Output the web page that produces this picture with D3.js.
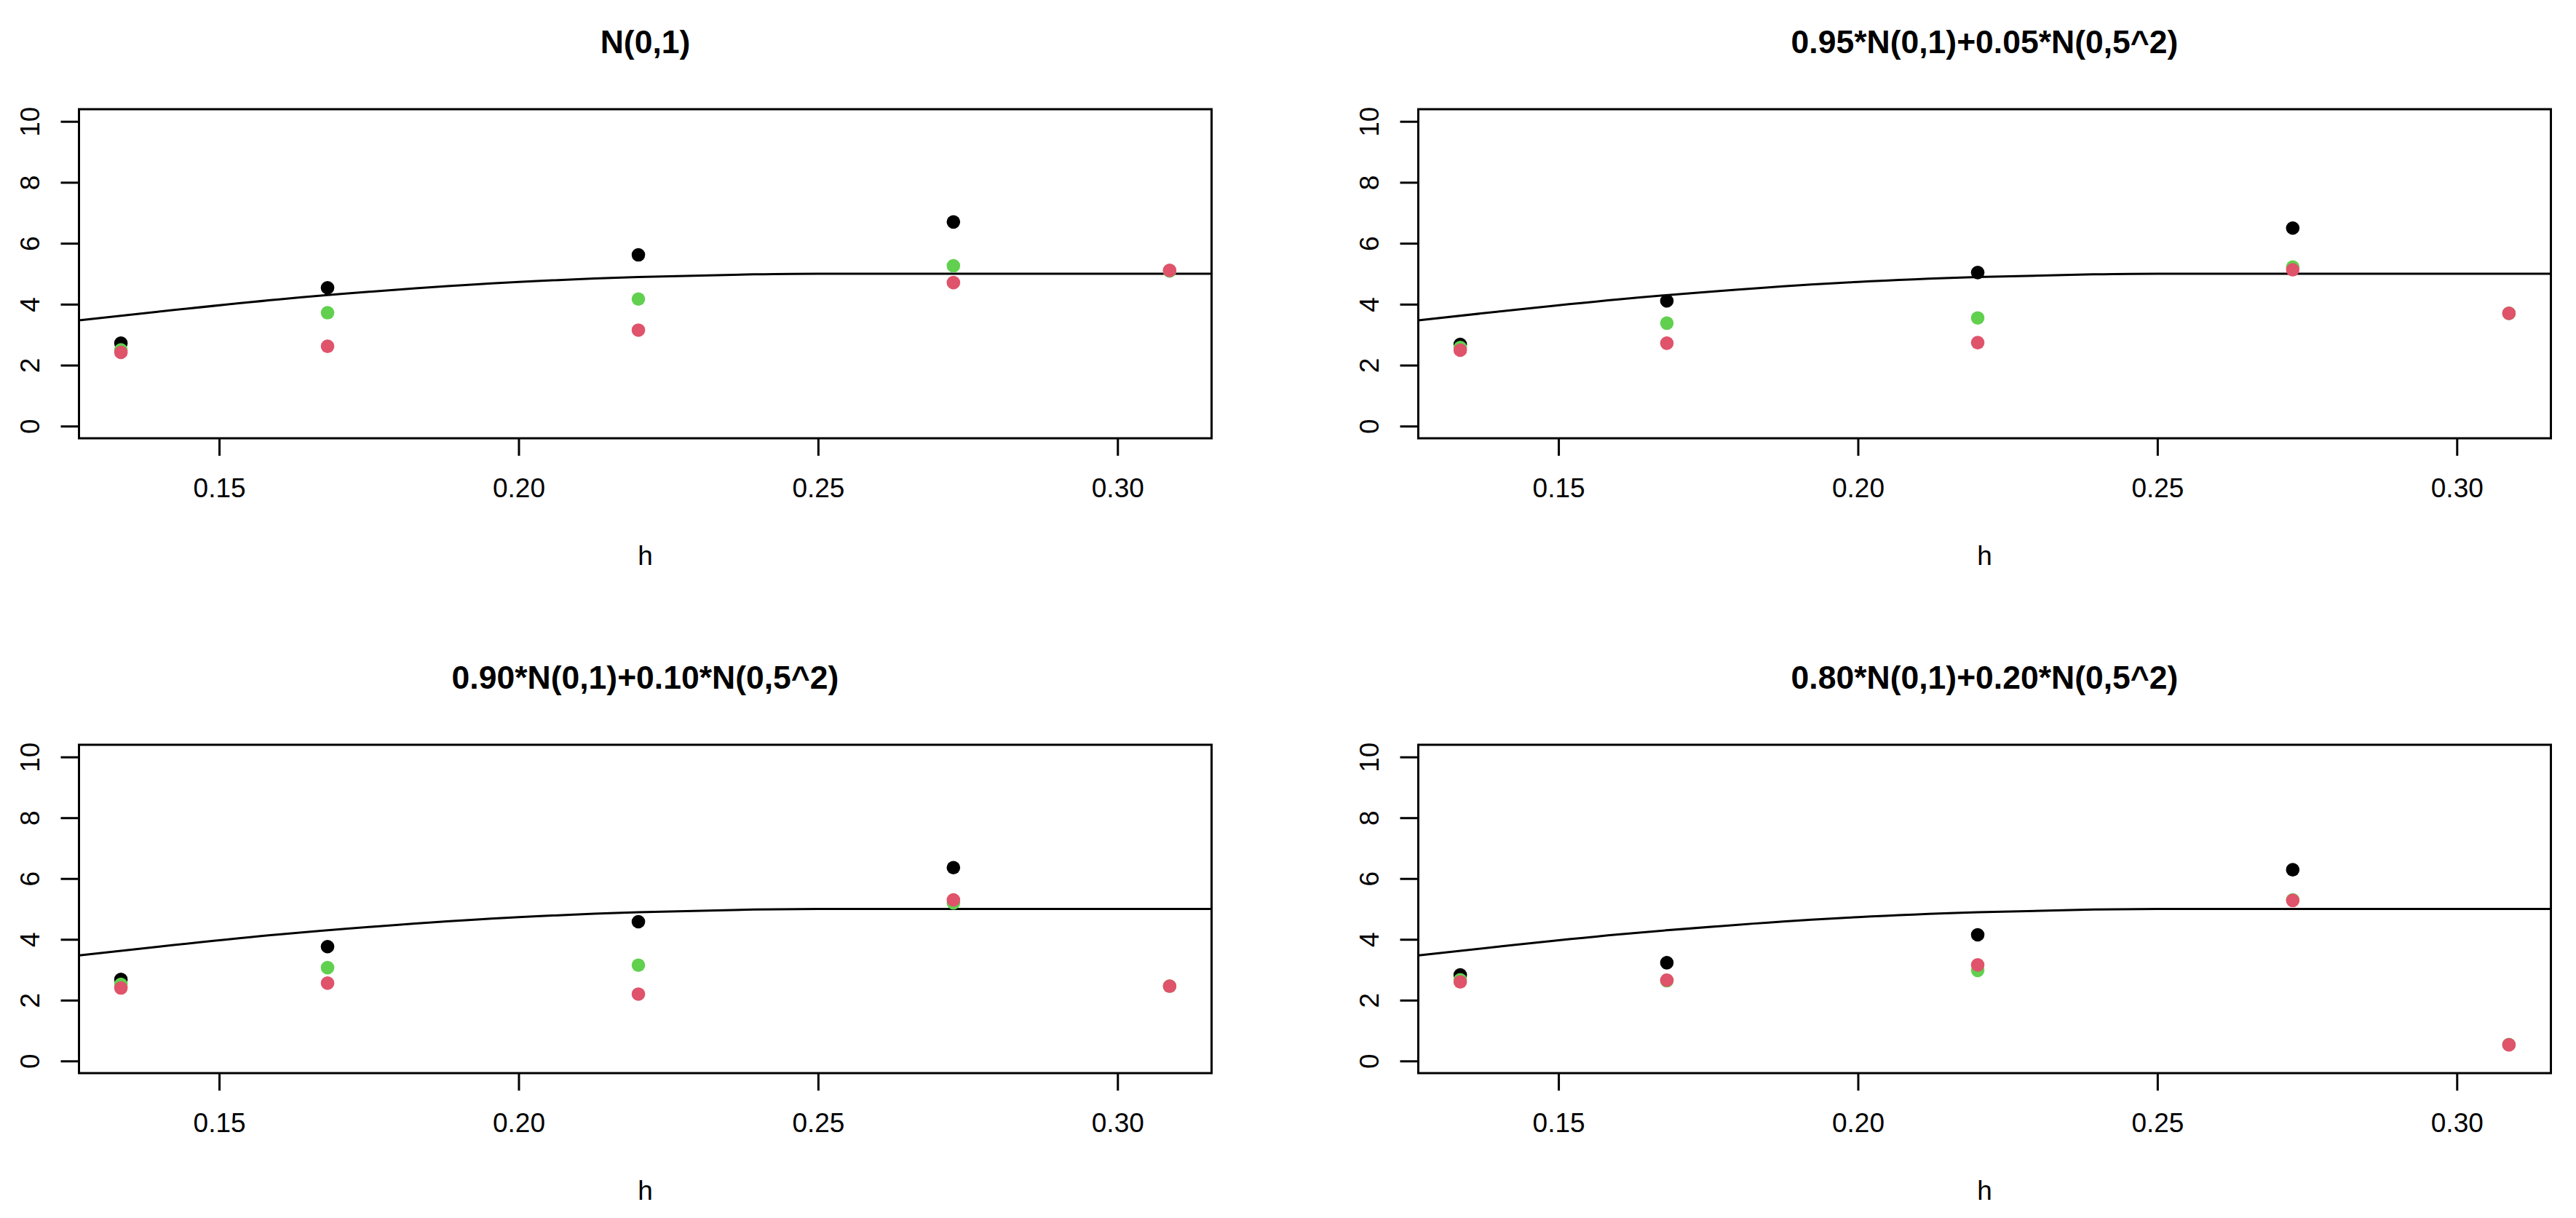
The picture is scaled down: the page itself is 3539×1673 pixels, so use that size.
<!DOCTYPE html>
<html>
<head>
<meta charset="utf-8">
<script src="https://cdn.jsdelivr.net/npm/d3@7"></script>
<style>
  body { margin: 0; background: #fff; }
  svg { display: block; }
</style>
</head>
<body>
<div id="chart"></div>
<script>
// bandwidths on the x axis
const hValues = [0.1336, 0.1681, 0.2200, 0.2726, 0.3087];

const panelTitles = [
    'N(0,1)',
    '0.95*N(0,1)+0.05*N(0,5^2)',
    '0.90*N(0,1)+0.10*N(0,5^2)',
    '0.80*N(0,1)+0.20*N(0,5^2)'
];

// black / green / red points, one array per panel (null = not drawn)
const blackN01 = [2.72, 4.54, 5.62, 6.70, null];
const greenN01 = [2.50, 3.72, 4.17, 5.26, 5.09];
const redN01   = [2.42, 2.62, 3.15, 4.71, 5.11];

const black95 = [2.68, 4.11, 5.04, 6.50, null];
const green95 = [2.58, 3.38, 3.55, 5.22, 3.70];
const red95   = [2.49, 2.72, 2.74, 5.13, 3.70];

const black90 = [2.68, 3.76, 4.58, 6.36, null];
const green90 = [2.52, 3.07, 3.15, 5.20, 2.46];
const red90   = [2.40, 2.56, 2.20, 5.30, 2.46];

const black80 = [2.83, 3.23, 4.15, 6.29, null];
const green80 = [2.67, 2.64, 2.98, 5.30, 0.54];
const red80   = [2.60, 2.66, 3.16, 5.28, 0.53];

// reference curve (same in every panel)
const curveH = [0.1266, 0.14, 0.16, 0.18, 0.20, 0.22, 0.2393, 0.25, 0.3157];
const curveY = [3.47, 3.76, 4.16, 4.48, 4.73, 4.89, 4.98, 5.0, 5.0];

const xTicks = [0.15, 0.20, 0.25, 0.30];
const yTicks = [0, 2, 4, 6, 8, 10];

const seriesColors = ['#000000', '#61D04F', '#DF536B'];

let panelChart = function(){

    this._series = null;
    this._title = null;
    this._selection = null;
    this._box = null;

    this.series = function(){
        if (arguments.length > 0){
            this._series = arguments[0];
            return this;
        } else return this._series;
    }

    this.title = function(){
        if (arguments.length > 0){
            this._title = arguments[0];
            return this;
        } else return this._title;
    }

    this.selection = function(){
        if (arguments.length > 0){
            this._selection = arguments[0];
            return this;
        } else return this._selection;
    }

    this.box = function(){
        if (arguments.length > 0){
            this._box = arguments[0];
            return this;
        } else return this._box;
    }

    this.draw = function(){
        let b = this._box;
        let w = b.x1 - b.x0, h = b.y1 - b.y0;

        // R style 4% padding on each side
        let xr = d3.extent(hValues);
        let xpad = (xr[1] - xr[0]) * 0.04;
        let xScale = d3.scaleLinear()
            .domain([xr[0] - xpad, xr[1] + xpad])
            .range([0, w]);
        let yScale = d3.scaleLinear()
            .domain([-0.4, 10.4])
            .range([h, 0]);

        let g = this._selection.append('g')
            .attr('transform', `translate(${b.x0}, ${b.y0})`);

        // title
        g.append('text')
            .attr('x', w/2)
            .attr('y', -77)
            .attr('text-anchor', 'middle')
            .attr('font-family', '"Liberation Sans", Arial, sans-serif')
            .attr('font-weight', 'bold')
            .attr('font-size', 44.5)
            .text(this._title);

        // curve
        let line = d3.line()
            .x(d => xScale(d[0]))
            .y(d => yScale(d[1]))
            .curve(d3.curveMonotoneX);

        g.append('path')
            .datum(curveH.map((v, i) => [v, curveY[i]]))
            .attr('d', line)
            .attr('fill', 'none')
            .attr('stroke', 'black')
            .attr('stroke-width', 3);

        // points: black first, then green, red on top
        this._series.forEach((vals, si) => {
            let pts = vals.map((v, i) => [hValues[i], v]).filter(d => d[1] !== null);
            g.selectAll('.pt' + si)
                .data(pts)
                .join('circle')
                .classed('pt' + si, true)
                .attr('cx', d => xScale(d[0]))
                .attr('cy', d => yScale(d[1]))
                .attr('r', 9.3)
                .attr('fill', seriesColors[si]);
        });

        // x axis
        let xAxis = g.append('g')
            .attr('transform', `translate(0, ${h})`)
            .call(d3.axisBottom(xScale)
                .tickValues(xTicks)
                .tickFormat(d3.format('.2f'))
                .tickSize(24)
                .tickSizeOuter(0));
        xAxis.select('.domain').remove();
        xAxis.selectAll('line').attr('stroke-width', 3);
        xAxis.selectAll('text')
            .attr('y', 81)
            .attr('dy', null)
            .attr('font-family', '"Liberation Sans", Arial, sans-serif')
            .attr('font-size', 37);

        // y axis
        let yAxis = g.append('g')
            .call(d3.axisLeft(yScale)
                .tickValues(yTicks)
                .tickSize(25)
                .tickSizeOuter(0));
        yAxis.select('.domain').remove();
        yAxis.selectAll('line').attr('stroke-width', 3);
        yAxis.selectAll('text')
            .attr('x', null)
            .attr('dy', null)
            .attr('text-anchor', 'middle')
            .attr('transform', 'translate(-55, 0) rotate(-90)')
            .attr('font-family', '"Liberation Sans", Arial, sans-serif')
            .attr('font-size', 37);

        // x label
        g.append('text')
            .attr('x', w/2)
            .attr('y', h + 174)
            .attr('text-anchor', 'middle')
            .attr('font-family', '"Liberation Sans", Arial, sans-serif')
            .attr('font-size', 37)
            .text('h');

        // box
        g.append('rect')
            .attr('x', 0)
            .attr('y', 0)
            .attr('width', w)
            .attr('height', h)
            .attr('fill', 'none')
            .attr('stroke', 'black')
            .attr('stroke-width', 3);
    }
}

let svg = d3.select('#chart').append('svg')
    .attr('width', 3539)
    .attr('height', 1673);

svg.append('rect')
    .attr('width', 3539)
    .attr('height', 1673)
    .attr('fill', 'white');

let boxes = [
    {x0: 108.5, x1: 1664.5, y0: 150, y1: 602},
    {x0: 1948.5, x1: 3504.5, y0: 150, y1: 602},
    {x0: 108.5, x1: 1664.5, y0: 1023, y1: 1474},
    {x0: 1948.5, x1: 3504.5, y0: 1023, y1: 1474}
];

let panelSeries = [
    [blackN01, greenN01, redN01],
    [black95, green95, red95],
    [black90, green90, red90],
    [black80, green80, red80]
];

panelSeries.forEach((s, i) => {
    new panelChart()
        .selection(svg)
        .series(s)
        .title(panelTitles[i])
        .box(boxes[i])
        .draw();
});
</script>
</body>
</html>
